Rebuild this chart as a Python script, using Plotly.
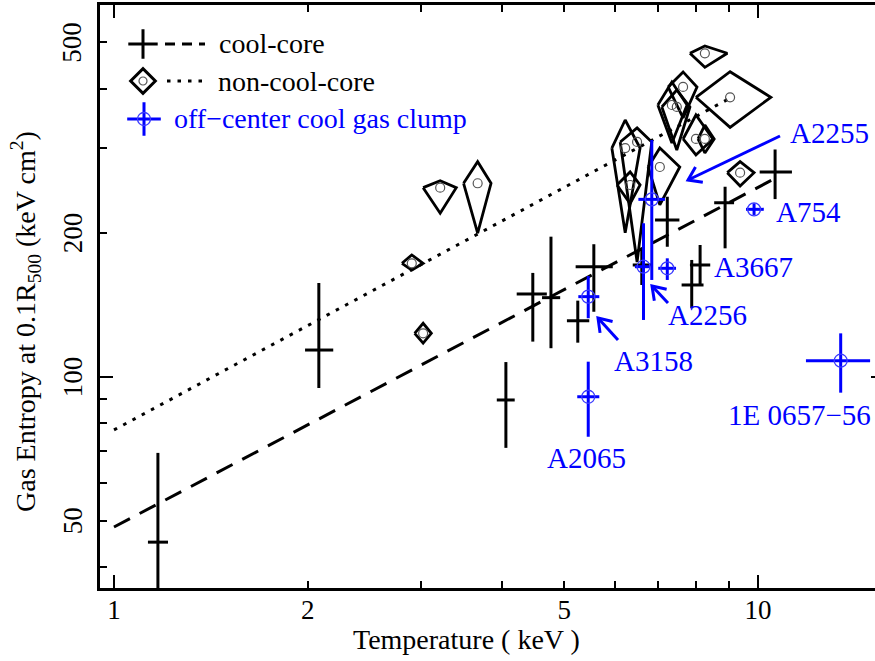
import numpy as np
import plotly.graph_objects as go

# ---------------- data (T in keV, K in keV cm^2) ----------------
# cool-core clusters: centre, lower bound, upper bound
cc_T    = [1.17, 2.08, 4.06, 4.47, 4.77, 5.56, 5.25, 6.60, 7.23, 8.89, 10.63, 8.13, 7.89]
cc_Tlo  = [1.129, 1.98, 3.93, 4.22, 4.62, 5.21, 5.05, 6.39, 6.92, 8.55, 10.06, 7.84, 7.61]
cc_Thi  = [1.213, 2.19, 4.19, 4.70, 4.93, 5.95, 5.47, 6.84, 7.55, 9.18, 11.29, 8.43, 8.23]
cc_K    = [45.1, 113.7, 89.4, 148.9, 146.3, 169.8, 130.9, 171.2, 212.6, 231.0, 267.9, 171.2, 155.5]
cc_Klo  = [30.0, 94.7, 71.0, 118.4, 114.7, 136.7, 117.8, 155.5, 186.9, 185.5, 235.1, 155.5, 139.0]
cc_Khi  = [69.3, 157.0, 107.3, 164.8, 196.2, 189.2, 144.2, 184.0, 237.8, 249.5, 298.5, 188.5, 175.4]

# non-cool-core clusters
ncc_T   = [2.90, 3.02, 3.21, 3.67, 8.27, 9.05, 9.38, 7.65, 7.35, 7.48, 8.01, 8.27, 6.22, 6.49, 7.04, 6.33]
ncc_Tlo = [2.80, 2.93, 3.02, 3.49, 7.84, 8.01, 8.96, 7.25, 6.99, 7.09, 7.65, 8.07, 5.93, 6.11, 6.75, 6.04]
ncc_Thi = [3.02, 3.11, 3.40, 3.85, 8.96, 10.47, 9.86, 8.04, 7.76, 7.84, 8.51, 8.55, 6.56, 6.84, 7.56, 6.56]
ncc_K   = [172.6, 123.2, 248.4, 253.7, 474.3, 383.7, 267.0, 403.3, 369.8, 366.3, 314.0, 314.0, 300.6, 309.5, 274.4, 251.6]
ncc_Klo = [167.0, 117.5, 219.6, 199.5, 443.3, 332.0, 250.3, 347.4, 308.0, 297.8, 290.7, 293.5, 200.0, 173.6, 228.6, 230.0]
ncc_Khi = [179.7, 129.3, 256.9, 281.5, 491.3, 434.0, 281.5, 433.6, 413.0, 397.5, 352.4, 335.8, 344.0, 331.1, 300.6, 267.9]

# off-centre cool gas clumps
oc_name = ["A2065", "A3158", "A2256", "A2255", "A3667", "A754", "1E 0657\u221256"]
oc_T    = [5.45, 5.45, 6.64, 6.84, 7.23, 9.86, 13.44]
oc_Tlo  = [5.24, 5.26, 6.44, 6.52, 7.00, 9.58, 11.87]
oc_Thi  = [5.67, 5.67, 6.80, 7.17, 7.46, 10.21, 14.93]
oc_K    = [90.8, 147.0, 169.8, 234.8, 168.5, 223.8, 108.0]
oc_Klo  = [74.9, 132.5, 131.4, 159.3, 159.3, 217.8, 92.6]
oc_Khi  = [107.5, 162.3, 209.3, 312.5, 176.8, 230.4, 123.2]

# power-law fits K = norm * T^slope, drawn over T range
fit_cc  = dict(norm=48.5, slope=0.71, Tmin=1.0, Tmax=10.6)
fit_ncc = dict(norm=77.4, slope=0.725, Tmin=1.0, Tmax=9.05)

x_ticks = [1, 2, 5, 10]
y_ticks = [50, 100, 200, 500]

# ---------------- styling ----------------
FONT = "Liberation Serif"
BLUE = "#0000ff"
W, H = 886, 661
L, R, T_, B = 100, 2, 5, 73
PW, PH = W - L - R, H - T_ - B
XR = [-0.02174, 1.19565]
YR = [1.55832, 2.77697]

def pxx(x):  # pixel -> paper
    return (x - L) / PW

def pxy(y):
    return (H - B - y) / PH

fig = go.Figure()

def A(v):
    return np.asarray(v, dtype=float)

# fit lines
for fit, dash in [(fit_cc, "18px,11px"), (fit_ncc, "3.5px,7px")]:
    tx = np.array([fit["Tmin"], fit["Tmax"]])
    fig.add_trace(go.Scatter(x=tx, y=fit["norm"] * tx ** fit["slope"], mode="lines",
                             line=dict(color="black", width=3, dash=dash),
                             hoverinfo="skip", showlegend=False))

# non-cool-core diamonds
dx, dy = [], []
for t, tl, th, k, kl, kh in zip(ncc_T, ncc_Tlo, ncc_Thi, ncc_K, ncc_Klo, ncc_Khi):
    dx += [tl, t, th, t, tl, None]
    dy += [k, kh, k, kl, k, None]
fig.add_trace(go.Scatter(x=dx, y=dy, mode="lines", line=dict(color="black", width=2.8),
                         hoverinfo="skip", showlegend=False))
fig.add_trace(go.Scatter(x=ncc_T, y=ncc_K, mode="markers",
                         marker=dict(symbol="circle-open", size=9, color="#555555",
                                     line=dict(width=1.2, color="#555555")),
                         showlegend=False))

# cool-core crosses
cT, cK = A(cc_T), A(cc_K)
fig.add_trace(go.Scatter(
    x=cc_T, y=cc_K, mode="markers", marker=dict(size=1, color="black", opacity=0),
    error_x=dict(type="data", symmetric=False, array=A(cc_Thi) - cT, arrayminus=cT - A(cc_Tlo),
                 color="black", thickness=3, width=0),
    error_y=dict(type="data", symmetric=False, array=A(cc_Khi) - cK, arrayminus=cK - A(cc_Klo),
                 color="black", thickness=3, width=0),
    showlegend=False))

# off-centre clumps
oT, oK = A(oc_T), A(oc_K)
fig.add_trace(go.Scatter(
    x=oc_T, y=oc_K, mode="markers",
    marker=dict(symbol="circle-open", size=13, color="#3a3aff", line=dict(width=1.3, color="#3a3aff")),
    error_x=dict(type="data", symmetric=False, array=A(oc_Thi) - oT, arrayminus=oT - A(oc_Tlo),
                 color=BLUE, thickness=3, width=0),
    error_y=dict(type="data", symmetric=False, array=A(oc_Khi) - oK, arrayminus=oK - A(oc_Klo),
                 color=BLUE, thickness=3, width=0),
    showlegend=False))

# ---------- pixel overlay axis for legend symbols and arrows ----------
def px(trace):
    trace.update(xaxis="x2", yaxis="y2", showlegend=False, hoverinfo="skip")
    fig.add_trace(trace)

# legend symbols
px(go.Scatter(x=[143], y=[44], mode="markers",
              marker=dict(symbol="cross-thin", size=21, line=dict(width=3, color="black"))))
px(go.Scatter(x=[165, 205], y=[44, 44], mode="lines", line=dict(color="black", width=3, dash="10px,7px")))
px(go.Scatter(x=[143], y=[81], mode="markers",
              marker=dict(symbol="diamond-open", size=19, color="black", line=dict(width=3, color="black"))))
px(go.Scatter(x=[143], y=[81], mode="markers",
              marker=dict(symbol="circle-open", size=8, color="#555555", line=dict(width=1.2, color="#555555"))))
px(go.Scatter(x=[167, 205], y=[81, 81], mode="lines", line=dict(color="black", width=3, dash="3.5px,7px")))
px(go.Scatter(x=[144], y=[119], mode="markers",
              marker=dict(symbol="cross-thin", size=24, line=dict(width=3, color=BLUE))))
px(go.Scatter(x=[144], y=[119], mode="markers",
              marker=dict(symbol="circle-open", size=13, color="#3a3aff", line=dict(width=1.3, color="#3a3aff"))))

annotations = []
legend_text = [("cool-core", 217, 44, "black"), ("non-cool-core", 216, 82, "black"),
               ("off\u2212center cool gas clump", 172, 119, BLUE)]
for txt, x, y, c in legend_text:
    annotations.append(dict(x=pxx(x), y=pxy(y), xref="paper", yref="paper", text=txt, showarrow=False,
                            xanchor="left", yanchor="middle", font=dict(family=FONT, size=28, color=c)))

# cluster labels, pixel positions
labels = [("A2255", 788, 133, "left"), ("A754", 774, 212, "left"), ("A3667", 712, 267, "left"),
          ("A2256", 666, 315, "left"), ("A3158", 612, 361, "left"), ("A2065", 586, 458, "center"),
          ("1E 0657\u221256", 799, 415, "center")]
for txt, x, y, anc in labels:
    annotations.append(dict(x=pxx(x), y=pxy(y), xref="paper", yref="paper", text=txt, showarrow=False,
                            xanchor=anc, yanchor="middle", font=dict(family=FONT, size=29, color=BLUE)))

# y tick labels drawn as rotated text next to the axis (pixel positions of the ticks)
y_tick_px = [520.7, 376.7, 232.7, 42.3]
for v, yp in zip(y_ticks, y_tick_px):
    annotations.append(dict(x=pxx(72.5), y=pxy(yp), xref="paper", yref="paper", text=str(v),
                            showarrow=False, textangle=-90, xanchor="center", yanchor="middle",
                            font=dict(family=FONT, size=27, color="black")))

# arrows (tail -> head) in pixels
arrows = [((780, 136), (688, 180)), ((668, 303), (652, 286)), ((618, 340), (598, 318))]
for (tx, ty), (hx, hy) in arrows:
    px(go.Scatter(x=[tx, hx], y=[ty, hy], mode="lines", line=dict(color=BLUE, width=3)))
    u = np.array([tx - hx, ty - hy], float)
    u /= np.linalg.norm(u)
    arms = []
    for ang in (0.6, -0.6):
        c, s = np.cos(ang), np.sin(ang)
        v = np.array([c * u[0] - s * u[1], s * u[0] + c * u[1]])
        arms.append((hx + 15 * v[0], hy + 15 * v[1]))
    px(go.Scatter(x=[arms[0][0], hx, arms[1][0]], y=[arms[0][1], hy, arms[1][1]], mode="lines",
                  line=dict(color=BLUE, width=3)))

# axis titles
annotations.append(dict(x=pxx(466), y=pxy(639), xref="paper", yref="paper", text="Temperature ( keV )",
                        showarrow=False, xanchor="center", yanchor="middle",
                        font=dict(family=FONT, size=28, color="black")))
annotations.append(dict(x=pxx(25), y=pxy(322), xref="paper", yref="paper", xanchor="center", yanchor="middle",
                        text="Gas Entropy at 0.1R<sub>500</sub> (keV cm<sup>2</sup>)", showarrow=False,
                        textangle=-90, font=dict(family=FONT, size=28, color="black")))

# long (decade) ticks overlay axes
fig.add_trace(go.Scatter(x=[2], y=[100], xaxis="x3", yaxis="y3", mode="markers",
                         marker=dict(opacity=0), showlegend=False, hoverinfo="skip"))

fig.update_layout(
    width=W, height=H, margin=dict(l=L, r=R, t=T_, b=B, autoexpand=False),
    paper_bgcolor="white", plot_bgcolor="white", showlegend=False,
    font=dict(family=FONT, size=27, color="black"),
    xaxis=dict(type="log", range=XR, showgrid=False, zeroline=False,
               showline=True, linewidth=2.5, linecolor="black", mirror="allticks",
               ticks="inside", ticklen=7, tickwidth=2, tickcolor="black",
               tickvals=x_ticks, ticktext=[str(v) for v in x_ticks],
               tickfont=dict(family=FONT, size=27), ticklabelstandoff=-4,
               minor=dict(tickvals=[3, 4, 6, 7, 8, 9], ticks="inside", ticklen=7, tickwidth=2,
                          tickcolor="black", showgrid=False)),
    yaxis=dict(type="log", range=YR, showgrid=False, zeroline=False,
               showline=True, linewidth=2.5, linecolor="black", mirror="allticks",
               ticks="inside", ticklen=7, tickwidth=2, tickcolor="black",
               tickvals=y_ticks, showticklabels=False,
               minor=dict(tickvals=[40, 60, 70, 80, 90, 300, 400], ticks="inside", ticklen=7,
                          tickwidth=2, tickcolor="black", showgrid=False)),
    xaxis2=dict(overlaying="x", range=[L, W - R], visible=False, anchor="y2"),
    yaxis2=dict(overlaying="y", range=[H - B, T_], visible=False, anchor="x2"),
    xaxis3=dict(overlaying="x", type="log", range=XR, anchor="y3", showgrid=False, zeroline=False,
                showline=False, ticks="inside", ticklen=13, tickwidth=2, tickcolor="black",
                tickvals=[1, 10], showticklabels=False, mirror="allticks"),
    yaxis3=dict(overlaying="y", type="log", range=YR, anchor="x3", showgrid=False, zeroline=False,
                showline=False, ticks="inside", ticklen=13, tickwidth=2, tickcolor="black",
                tickvals=[100], showticklabels=False, mirror="allticks"),
    annotations=annotations,
)

fig.write_html("out.html", config={"displayModeBar": False},
               post_script="document.body.style.margin='0';document.body.style.overflow='hidden';")
